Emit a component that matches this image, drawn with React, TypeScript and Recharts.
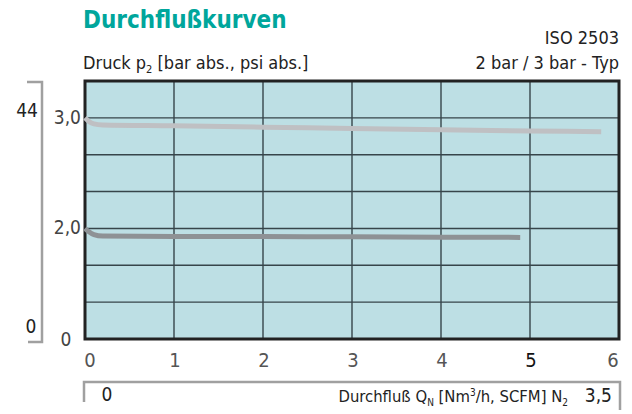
import React from "react";
import {
  CartesianGrid,
  Line,
  LineChart,
  ReferenceArea,
  XAxis,
  YAxis,
} from "recharts";

// flow in Nm³/h, pressure p2 in bar abs.
const flow3bar = [0, 0.04, 0.1, 0.2, 1, 2, 3, 4, 5, 5.8];
const pressure3bar = [3.0, 2.97, 2.945, 2.935, 2.928, 2.916, 2.904, 2.892, 2.882, 2.874];

const flow2bar = [0, 0.04, 0.1, 0.2, 1, 2, 3, 4, 4.89];
const pressure2bar = [2.0, 1.972, 1.945, 1.932, 1.928, 1.926, 1.924, 1.921, 1.919];

const xTicks = [0, 1, 2, 3, 4, 5, 6];
// broken axis: the bottom line stands for 0
const yTicks = [1, 4 / 3, 5 / 3, 2, 7 / 3, 8 / 3, 3, 10 / 3];
const yTickLabels: Record<number, string> = { 1: "0", 2: "2,0", 3: "3,0" };

const FONT = "'Liberation Sans Narrow', 'DejaVu Sans Condensed', 'Roboto Condensed', sans-serif";
const W = 632;
const H = 414;

const toSeries = (xs: number[], ys: number[]) => xs.map((q, i) => ({ q, p: ys[i] }));

function XTick({ x, payload }: any) {
  const v = payload.value;
  const dx = v === 0 ? 5 : v === 6 ? -6 : 1;
  return (
    <text
      x={x + dx}
      y={367}
      textAnchor="middle"
      fontSize={20}
      fontFamily={FONT}
      fill={v === 5 ? "#111" : "#555"}
    >
      {v}
    </text>
  );
}

function YTick({ y, payload }: any) {
  const label = yTickLabels[payload.value];
  if (!label) return null;
  const bottom = payload.value === 1;
  return (
    <text
      x={bottom ? 66 : 81}
      y={y + (bottom ? 7 : 6)}
      textAnchor={bottom ? "middle" : "end"}
      fontSize={19}
      fontFamily={FONT}
      fill="#444"
    >
      {label}
    </text>
  );
}

export default function App() {
  return (
    <div style={{ position: "absolute", left: 0, top: 0, width: W, height: H, background: "#fff" }}>
      <LineChart
        width={W}
        height={H}
        margin={{ top: 81, right: 13, bottom: 44, left: 0 }}
      >
        <CartesianGrid
          fill="#bddfe4"
          stroke="#37454a"
          strokeWidth={1.4}
          strokeOpacity={1}
        />
        <XAxis
          dataKey="q"
          type="number"
          domain={[0, 6]}
          ticks={xTicks}
          height={31}
          axisLine={false}
          tickLine={false}
          tick={<XTick />}
          allowDuplicatedCategory={false}
        />
        <YAxis
          type="number"
          domain={[1, 10 / 3]}
          ticks={yTicks}
          width={85}
          axisLine={false}
          tickLine={false}
          tick={<YTick />}
          interval={0}
        />
        <ReferenceArea
          x1={0}
          x2={6}
          y1={1}
          y2={10 / 3}
          fill="none"
          stroke="#222"
          strokeWidth={3}
          ifOverflow="visible"
        />
        <Line
          data={toSeries(flow3bar, pressure3bar)}
          dataKey="p"
          type="monotone"
          stroke="#bfc0c3"
          strokeWidth={5}
          dot={false}
          isAnimationActive={false}
        />
        <Line
          data={toSeries(flow2bar, pressure2bar)}
          dataKey="p"
          type="monotone"
          stroke="#8e9295"
          strokeWidth={5}
          dot={false}
          isAnimationActive={false}
        />
      </LineChart>

      <svg
        width={W}
        height={H}
        style={{ position: "absolute", left: 0, top: 0, pointerEvents: "none" }}
        fontFamily={FONT}
      >
        <text x={83} y={28} fontSize={24} fontWeight="bold" fill="#00a69c">
          Durchflußkurven
        </text>
        <text x={619} y={44} fontSize={18} textAnchor="end" fill="#222">
          ISO 2503
        </text>
        <text x={83} y={69} fontSize={18} fill="#222">
          Druck p<tspan fontSize={11} dy={4}>2</tspan>
          <tspan dy={-4}> [bar abs., psi abs.]</tspan>
        </text>
        <text x={619} y={69} fontSize={18} textAnchor="end" fill="#222">
          2 bar / 3 bar - Typ
        </text>

        {/* psi bracket */}
        <polyline points="27,82 42,82 42,342 28,342" fill="none" stroke="#a0a0a0" strokeWidth={2.5} />
        <text x={38} y={117} fontSize={19} textAnchor="end" fill="#222">44</text>
        <text x={31} y={333} fontSize={19} textAnchor="middle" fill="#222">0</text>

        {/* SCFM bracket */}
        <polyline points="84,402 84,382 620,382 620,410" fill="none" stroke="#a0a0a0" strokeWidth={2.5} />
        <text x={107} y={401} fontSize={19} textAnchor="middle" fill="#222">0</text>
        <text x={568} y={402} fontSize={16.5} textAnchor="end" fill="#222">
          Durchfluß Q<tspan fontSize={10} dy={4}>N</tspan>
          <tspan dy={-4}> [Nm</tspan>
          <tspan fontSize={10} dy={-6}>3</tspan>
          <tspan dy={6}>/h, SCFM] N</tspan>
          <tspan fontSize={10} dy={4}>2</tspan>
        </text>
        <text x={612} y={402} fontSize={19} textAnchor="end" fill="#222">3,5</text>
      </svg>
    </div>
  );
}
